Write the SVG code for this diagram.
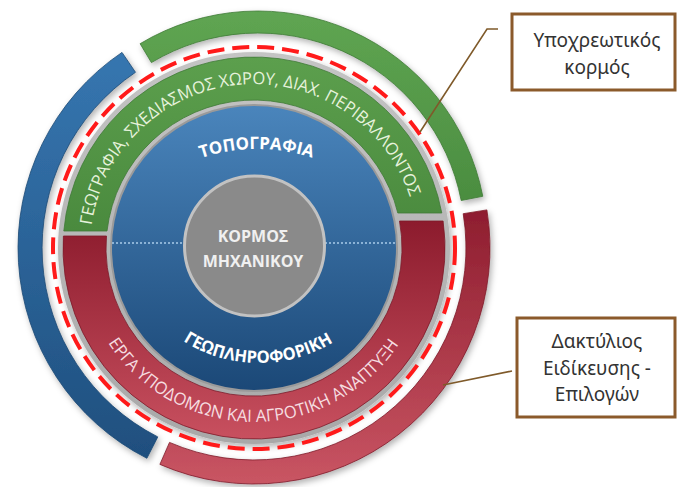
<svg xmlns="http://www.w3.org/2000/svg" width="677" height="487" viewBox="0 0 677 487">
<style>
.band-txt{font-family:"Open Sans","Noto Sans",sans-serif;font-size:17px;}
.blue-txt{font-family:"Open Sans","Noto Sans",sans-serif;font-size:17px;font-weight:bold;fill:#ffffff;}
.core-txt{font-family:"Open Sans","Noto Sans",sans-serif;font-size:16px;font-weight:bold;fill:#f0f0f0;text-anchor:middle;}
.box{fill:#ffffff;stroke:#8b5a2b;stroke-width:3;}
.box-txt{font-family:"Noto Sans","Open Sans",sans-serif;font-size:19px;fill:#333333;text-anchor:middle;}
.leader{fill:none;stroke:#7f5a2a;stroke-width:1.6;}
</style>
<defs>
<filter id="sh" x="-10%" y="-10%" width="120%" height="120%">
<feDropShadow dx="2" dy="3" stdDeviation="3" flood-color="#000" flood-opacity="0.3"/>
</filter>
<linearGradient id="gBlueOuter" x1="0" y1="0" x2="0" y2="1">
<stop offset="0" stop-color="#3676b0"/><stop offset="1" stop-color="#1f4f7e"/>
</linearGradient>
<linearGradient id="gGreenOuter" x1="0" y1="0" x2="0" y2="1">
<stop offset="0" stop-color="#5fa552"/><stop offset="1" stop-color="#4b8d40"/>
</linearGradient>
<linearGradient id="gRedOuter" x1="0" y1="0" x2="0" y2="1">
<stop offset="0" stop-color="#8e1d2f"/><stop offset="1" stop-color="#c95563"/>
</linearGradient>
<linearGradient id="gGreenBand" x1="0" y1="0" x2="0" y2="1">
<stop offset="0" stop-color="#5c9f4d"/><stop offset="1" stop-color="#4a8a3e"/>
</linearGradient>
<linearGradient id="gRedBand" x1="0" y1="0" x2="0" y2="1">
<stop offset="0" stop-color="#8c1b2d"/><stop offset="1" stop-color="#c8505f"/>
</linearGradient>
<linearGradient id="gBlue" x1="0" y1="0" x2="0" y2="1">
<stop offset="0" stop-color="#4a85bc"/><stop offset="1" stop-color="#1b4877"/>
</linearGradient>
<linearGradient id="gGray" x1="0" y1="0" x2="0" y2="1">
<stop offset="0" stop-color="#c4c4c4"/><stop offset="1" stop-color="#a8a8a8"/>
</linearGradient>
<path id="pGreen" d="M 91.6,225.2 A 164 164 0 0 1 410.8,200.1"/>
<path id="pRed" d="M 108.1,342.8 A 174 174 0 0 0 399.9,342.8"/>
<path id="pTopo" d="M 201,158 A 178.7 178.7 0 0 1 313,158"/>
<path id="pGeo" d="M 183,341 A 142.3 142.3 0 0 0 335,341"/>
</defs>
<rect x="0" y="0" width="677" height="487" fill="#ffffff"/>

<g id="outer-blue-arc" filter="url(#sh)">
<path d="M 146.9,458.3 A 236 236 0 0 1 122.0,52.4 L 135.5,72.3 A 212 212 0 0 0 157.8,436.9 Z" fill="url(#gBlueOuter)" stroke="#1d4a75" stroke-width="0.8"/>
</g>
<g id="outer-green-arc" filter="url(#sh)">
<path d="M 140.1,43.7 A 229 229 0 0 1 482.8,196.3 L 461.2,200.5 A 207 207 0 0 0 151.4,62.6 Z" fill="url(#gGreenOuter)" stroke="#3f7a36" stroke-width="0.8"/>
</g>
<g id="outer-red-arc" filter="url(#sh)">
<path d="M 486.9,209.9 A 236 236 0 0 1 159.9,464.4 L 169.5,442.4 A 212 212 0 0 0 463.2,213.7 Z" fill="url(#gRedOuter)" stroke="#7e1a2a" stroke-width="0.8"/>
</g>

<g id="ring-base" filter="url(#sh)">
<circle cx="254" cy="248" r="196" fill="url(#gGray)"/>
</g>

<g id="green-band">
<path d="M 63.8,231 A 191 191 0 0 1 441.8,213 L 397.8,213 A 148 148 0 0 0 107,231 Z" fill="url(#gGreenBand)" stroke="#3f7a36" stroke-width="0.8"/>
<text class="band-txt" fill="#e6f2dc"><textPath href="#pGreen" textLength="440" lengthAdjust="spacingAndGlyphs">ΓΕΩΓΡΑΦΙΑ, ΣΧΕΔΙΑΣΜΟΣ ΧΩΡΟΥ, ΔΙΑΧ. ΠΕΡΙΒΑΛΛΟΝΤΟΣ</textPath></text>
</g>

<g id="red-band">
<path d="M 443.1,221 A 191 191 0 1 1 63.4,236 L 106.5,236 A 148 148 0 1 0 399.5,221 Z" fill="url(#gRedBand)" stroke="#7e1a2a" stroke-width="0.8"/>
<text class="band-txt" fill="#f6dde0"><textPath href="#pRed" textLength="344" lengthAdjust="spacingAndGlyphs">ΕΡΓΑ ΥΠΟΔΟΜΩΝ ΚΑΙ ΑΓΡΟΤΙΚΗ ΑΝΑΠΤΥΞΗ</textPath></text>
</g>

<g id="blue-core">
<circle cx="254" cy="248" r="143" fill="url(#gBlue)" stroke="#9a9a9a" stroke-width="2"/>
<line x1="112" y1="243" x2="184" y2="243" stroke="#a9cbea" stroke-width="1.5" stroke-dasharray="2 2"/>
<line x1="325" y1="243" x2="396" y2="243" stroke="#a9cbea" stroke-width="1.5" stroke-dasharray="2 2"/>
<text class="blue-txt"><textPath href="#pTopo" textLength="113" lengthAdjust="spacingAndGlyphs">ΤΟΠΟΓΡΑΦΙΑ</textPath></text>
<text class="blue-txt" font-size="16"><textPath href="#pGeo" textLength="158" lengthAdjust="spacingAndGlyphs">ΓΕΩΠΛΗΡΟΦΟΡΙΚΗ</textPath></text>
</g>

<g id="core">
<circle cx="254.5" cy="246" r="70" fill="#8a8a8a" stroke="#c2c2c2" stroke-width="3"/>
<text class="core-txt" x="253" y="242">ΚΟΡΜΟΣ</text>
<text class="core-txt" x="253" y="267">ΜΗΧΑΝΙΚΟΥ</text>
</g>

<g id="dashed-ring">
<circle cx="254" cy="248" r="201" fill="none" stroke="#ff1a1a" stroke-width="4" stroke-dasharray="17 8"/>
</g>

<g id="box-core">
<rect class="box" x="512" y="14" width="163" height="76"/>
<text class="box-txt" x="597" y="47">Υποχρεωτικός</text>
<text class="box-txt" x="597" y="74">κορμός</text>
</g>

<g id="box-ring">
<rect class="box" x="517" y="318" width="158" height="99"/>
<text class="box-txt" x="597" y="348">Δακτύλιος</text>
<text class="box-txt" x="597" y="375">Ειδίκευσης -</text>
<text class="box-txt" x="597" y="401">Επιλογών</text>
</g>

<g id="connectors">
<polyline class="leader" points="498,29 487,29 420,132"/>
<line class="leader" x1="512" y1="371" x2="443" y2="385"/>
</g>
</svg>
